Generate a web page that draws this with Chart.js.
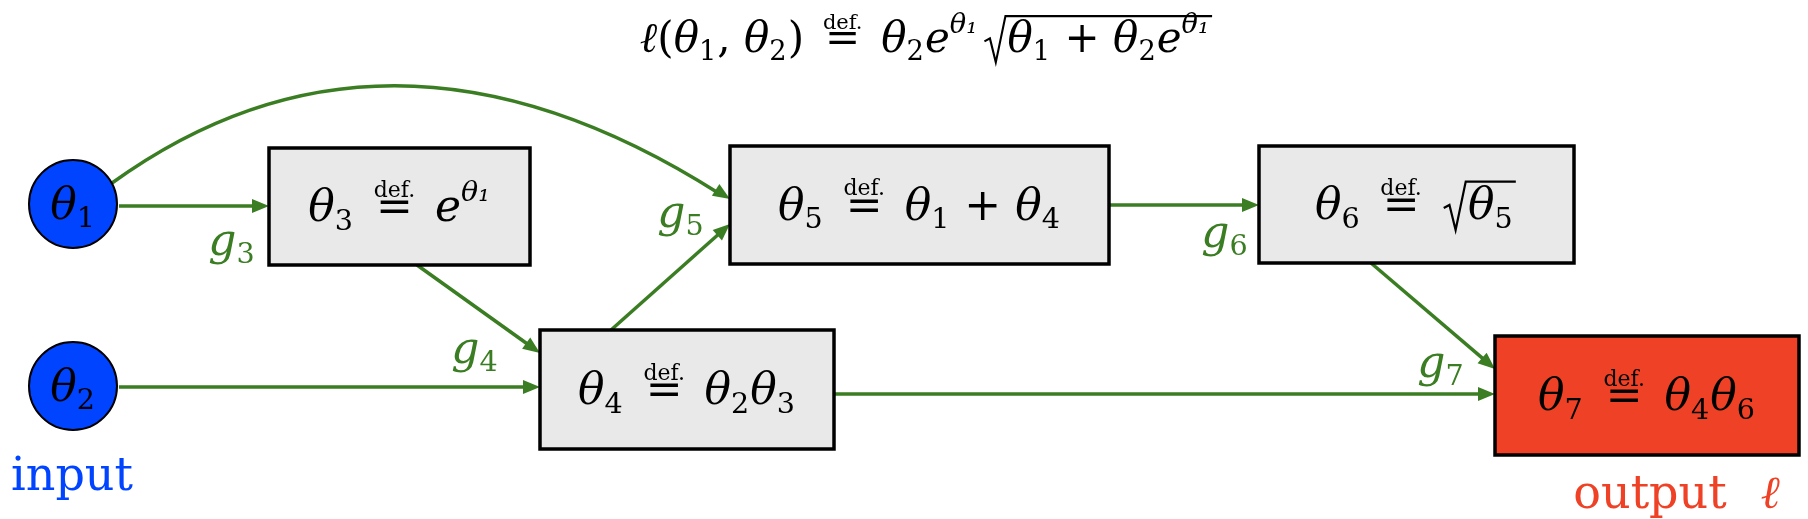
<!DOCTYPE html>
<html><head><meta charset="utf-8">
<script src="https://cdn.jsdelivr.net/npm/chart.js@4.4.1/dist/chart.umd.min.js"></script>
<style>html,body{margin:0;background:#fff}#wrap{width:1808px;height:519px}</style>
</head><body><div id="wrap"><canvas id="c"></canvas></div>
<script>
// node layout in picture units (x 0..1808, y 0..519 top-down)
const circles = [ {id: 't1', x: 73, y: 204, r: 44}, {id: 't2', x: 73, y: 386, r: 44} ];
const boxes = [
  {id: 'b3', x0: 269, y0: 148, x1: 530, y1: 265, fill: '#e9e9e9'},
  {id: 'b5', x0: 730, y0: 146, x1: 1109, y1: 264, fill: '#e9e9e9'},
  {id: 'b6', x0: 1259, y0: 146, x1: 1574, y1: 263, fill: '#e9e9e9'},
  {id: 'b4', x0: 540, y0: 330, x1: 834, y1: 449, fill: '#e9e9e9'},
  {id: 'b7', x0: 1495, y0: 336, x1: 1799, y1: 455, fill: '#ee4125'}
];
const arrows = [
  [119, 206, 269, 206], [417, 265, 540, 353], [119, 387, 540, 387],
  [611, 330, 730, 224], [1109, 205, 1259, 205], [1371, 263, 1495, 369],
  [834, 394, 1495, 394]
];
const curve = [112, 183, 389, -17, 730, 199];
const edgeLabels = [['3', 232, 240], ['4', 475, 348], ['5', 681, 212], ['6', 1225, 232], ['7', 1441, 362]];

const GREEN = '#3a7d22';
const SERIF = '"DejaVu Serif", "Liberation Serif", serif';

function font(size, italic) { return (italic ? 'italic ' : '') + size + 'px ' + SERIF; }

// math parts: v = italic var, r = roman, sub, sup, def (stacked def. over =), sqrt
function measure(ctx, parts, s) {
  let w = 0;
  for (const p of parts) w += partW(ctx, p, s);
  return w;
}
function partW(ctx, p, s) {
  if (p.k === 'sqrt') return s * 0.6 + measure(ctx, p.inner, s) + s * 0.1;
  if (p.k === 'def') { ctx.font = font(s, false); return ctx.measureText('=').width + s * 0.5; }
  if (p.k === 'gap') return s * p.t;
  if (p.k === 'sub' || p.k === 'sup') { ctx.font = font(s * 0.65, p.i); return ctx.measureText(p.t).width + 1; }
  ctx.font = font(s, p.k === 'v'); return ctx.measureText(p.t).width;
}
function draw(ctx, parts, x, y, s, col) {
  for (const p of parts) {
    const w = partW(ctx, p, s);
    ctx.fillStyle = col; ctx.strokeStyle = col;
    if (p.k === 'sqrt') {
      const iw = measure(ctx, p.inner, s);
      ctx.lineWidth = s * 0.05;
      ctx.beginPath();
      ctx.moveTo(x + s * 0.05, y - s * 0.25);
      ctx.lineTo(x + s * 0.18, y - s * 0.32);
      ctx.lineTo(x + s * 0.32, y + s * 0.25);
      ctx.lineTo(x + s * 0.55, y - s * 0.85);
      ctx.lineTo(x + s * 0.6 + iw + s * 0.05, y - s * 0.85);
      ctx.stroke();
      draw(ctx, p.inner, x + s * 0.6, y, s, col);
    } else if (p.k === 'def') {
      const ew = ctx.measureText('=').width;
      ctx.font = font(s, false); ctx.textAlign = 'center';
      ctx.fillText('=', x + w / 2, y);
      ctx.font = font(s * 0.5, false);
      ctx.fillText('def.', x + w / 2, y - s * 0.55);
      ctx.textAlign = 'left';
    } else if (p.k === 'sub') {
      ctx.font = font(s * 0.65, p.i); ctx.fillText(p.t, x, y + s * 0.2);
    } else if (p.k === 'sup') {
      ctx.font = font(s * 0.65, p.i); ctx.fillText(p.t, x, y - s * 0.45);
    } else if (p.k !== 'gap') {
      ctx.font = font(s, p.k === 'v'); ctx.fillText(p.t, x, y);
    }
    x += w;
  }
}
function drawC(ctx, parts, cx, cy, s, col) {
  ctx.textAlign = 'left'; ctx.textBaseline = 'alphabetic';
  const w = measure(ctx, parts, s);
  draw(ctx, parts, cx - w / 2, cy + s * 0.33, s, col);
}
const th = n => [{k: 'v', t: 'θ'}, {k: 'sub', t: n}];
const g = {k: 'gap', t: 0.25};
const texts = {
  t1: th('1'), t2: th('2'),
  b3: [...th('3'), g, {k: 'def'}, g, {k: 'v', t: 'e'}, {k: 'sup', t: 'θ₁', i: true}],
  b5: [...th('5'), g, {k: 'def'}, g, ...th('1'), {k: 'r', t: ' + '}, ...th('4')],
  b6: [...th('6'), g, {k: 'def'}, g, {k: 'sqrt', inner: th('5')}],
  b4: [...th('4'), g, {k: 'def'}, g, ...th('2'), ...th('3')],
  b7: [...th('7'), g, {k: 'def'}, g, ...th('4'), ...th('6')]
};
const title = [{k: 'v', t: 'ℓ'}, {k: 'r', t: '('}, ...th('1'), {k: 'r', t: ', '}, ...th('2'), {k: 'r', t: ')'}, g,
  {k: 'def'}, g, ...th('2'), {k: 'v', t: 'e'}, {k: 'sup', t: 'θ₁', i: true}, {k: 'gap', t: 0.1},
  {k: 'sqrt', inner: [...th('1'), {k: 'r', t: ' + '}, ...th('2'), {k: 'v', t: 'e'}, {k: 'sup', t: 'θ₁', i: true}]}];

function arrowHead(ctx, x0, y0, x1, y1) {
  const a = Math.atan2(y1 - y0, x1 - x0), L = 17, W = 7;
  ctx.beginPath();
  ctx.moveTo(x1, y1);
  ctx.lineTo(x1 - L * Math.cos(a) + W * Math.sin(a), y1 - L * Math.sin(a) - W * Math.cos(a));
  ctx.lineTo(x1 - L * Math.cos(a) - W * Math.sin(a), y1 - L * Math.sin(a) + W * Math.cos(a));
  ctx.closePath(); ctx.fill();
}

const diagram = {
  id: 'diagram',
  afterDatasetsDraw(chart) {
    const ctx = chart.ctx, X = v => chart.scales.x.getPixelForValue(v), Y = v => chart.scales.y.getPixelForValue(v);
    ctx.save();
    ctx.strokeStyle = GREEN; ctx.fillStyle = GREEN; ctx.lineWidth = 3.5;
    for (const [a, b, c, d] of arrows) {
      const ang = Math.atan2(Y(d) - Y(b), X(c) - X(a));
      ctx.beginPath(); ctx.moveTo(X(a), Y(b));
      ctx.lineTo(X(c) - 12 * Math.cos(ang), Y(d) - 12 * Math.sin(ang)); ctx.stroke();
      arrowHead(ctx, X(a), Y(b), X(c), Y(d));
    }
    const [p0x, p0y, cx, cy, p2x, p2y] = curve;
    ctx.beginPath(); ctx.moveTo(X(p0x), Y(p0y));
    ctx.quadraticCurveTo(X(cx), Y(cy), X(p2x) - 10, Y(p2y) - 5); ctx.stroke();
    arrowHead(ctx, X(cx), Y(cy), X(p2x), Y(p2y));
    for (const [n, x, y] of edgeLabels) drawC(ctx, [{k: 'v', t: 'g'}, {k: 'sub', t: n}], X(x), Y(y), 44, GREEN);

    for (const b of boxes) {
      ctx.fillStyle = b.fill; ctx.strokeStyle = '#000'; ctx.lineWidth = 3.5;
      ctx.fillRect(X(b.x0), Y(b.y0), X(b.x1) - X(b.x0), Y(b.y1) - Y(b.y0));
      ctx.strokeRect(X(b.x0), Y(b.y0), X(b.x1) - X(b.x0), Y(b.y1) - Y(b.y0));
      drawC(ctx, texts[b.id], X((b.x0 + b.x1) / 2), Y((b.y0 + b.y1) / 2), 44, '#000');
    }
    for (const c of circles) {
      ctx.beginPath(); ctx.arc(X(c.x), Y(c.y), c.r, 0, 2 * Math.PI);
      ctx.fillStyle = '#0044ff'; ctx.fill(); ctx.strokeStyle = '#000'; ctx.lineWidth = 2; ctx.stroke();
      drawC(ctx, texts[c.id], X(c.x), Y(c.y), 44, '#000');
    }
    drawC(ctx, title, X(927), Y(38), 42, '#000');
    ctx.font = '46px ' + SERIF; ctx.textAlign = 'center'; ctx.fillStyle = '#0044ff';
    ctx.fillText('input', X(72), Y(490));
    ctx.fillStyle = '#ee4125';
    ctx.fillText('output', X(1650), Y(508));
    ctx.font = font(46, true); ctx.fillText('ℓ', X(1770), Y(508));
    ctx.restore();
  }
};

new Chart(document.getElementById('c'), {
  type: 'scatter',
  data: { datasets: [{ data: circles.map(c => ({x: c.x, y: c.y})), pointRadius: 0 }] },
  options: {
    responsive: true, maintainAspectRatio: false, animation: false,
    layout: { padding: 0 },
    plugins: { legend: { display: false }, tooltip: { enabled: false } },
    scales: {
      x: { type: 'linear', min: 0, max: 1808, display: false },
      y: { type: 'linear', min: 0, max: 519, reverse: true, display: false }
    }
  },
  plugins: [diagram]
});
</script></body></html>
